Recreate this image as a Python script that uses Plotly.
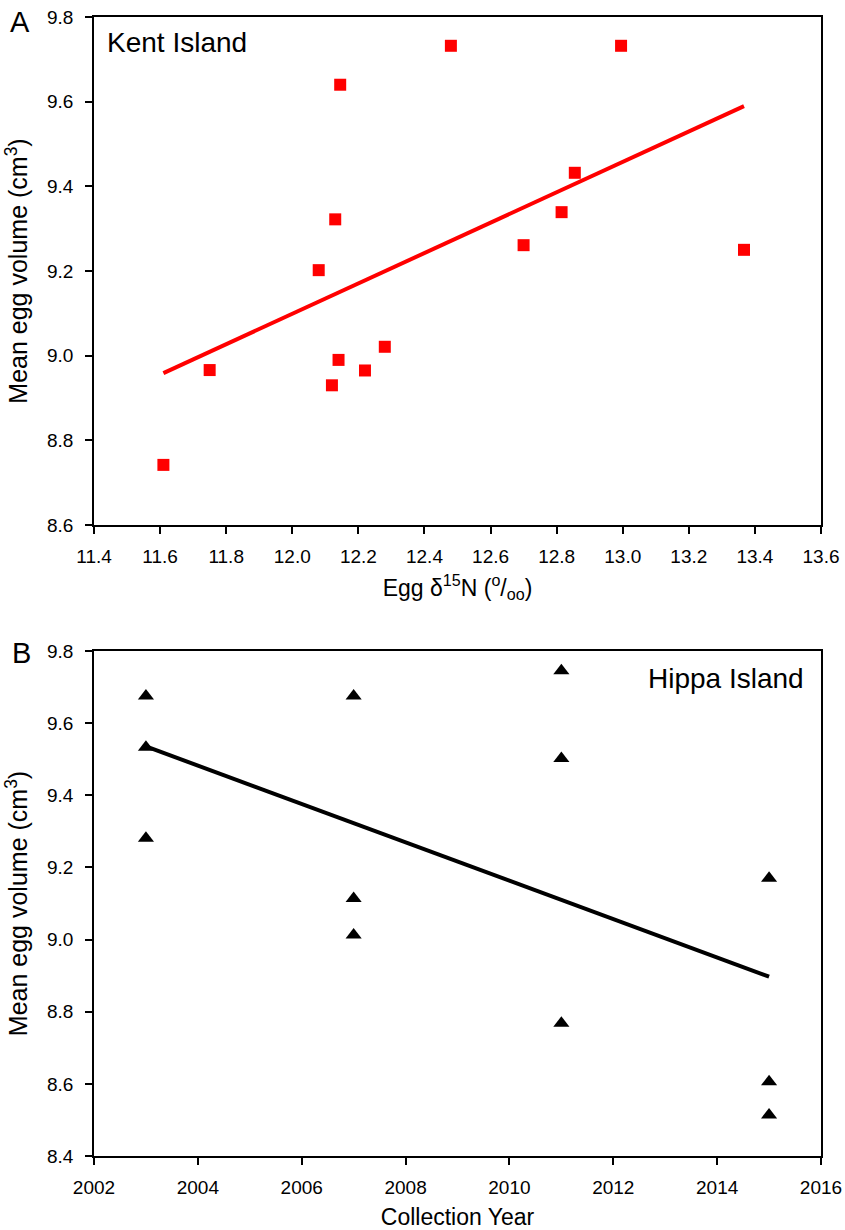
import numpy as np
import plotly.graph_objects as go

# Panel A: Kent Island
kent_d15n = [11.61, 11.75, 12.08, 12.12, 12.13, 12.14, 12.145, 12.22, 12.28, 12.48, 12.70, 12.815, 12.855, 12.995, 13.367]
kent_vol = [8.742, 8.966, 9.202, 8.930, 9.322, 8.990, 9.640, 8.965, 9.021, 9.732, 9.261, 9.339, 9.432, 9.732, 9.250]
kent_xticks = [11.4, 11.6, 11.8, 12.0, 12.2, 12.4, 12.6, 12.8, 13.0, 13.2, 13.4, 13.6]
kent_yticks = [8.6, 8.8, 9.0, 9.2, 9.4, 9.6, 9.8]

# Panel B: Hippa Island
hippa_year = [2003, 2003, 2003, 2007, 2007, 2007, 2011, 2011, 2011, 2015, 2015, 2015]
hippa_vol = [9.675, 9.533, 9.281, 9.675, 9.114, 9.013, 9.745, 9.502, 8.768, 9.170, 8.606, 8.514]
hippa_xticks = [2002, 2004, 2006, 2008, 2010, 2012, 2014, 2016]
hippa_yticks = [8.4, 8.6, 8.8, 9.0, 9.2, 9.4, 9.6, 9.8]

W, H = 845, 1230
FONT = "Liberation Sans, Arial, sans-serif"

def PX(x):
    return x / W

def PY(y):
    return 1 - y / H

def fit(x, y):
    x = np.asarray(x, float); y = np.asarray(y, float)
    b, a = np.polyfit(x, y, 1)
    xs = np.array([x.min(), x.max()])
    return xs, a + b * xs

fig = go.Figure()

fig.add_trace(go.Scatter(x=kent_d15n, y=kent_vol, mode="markers",
                         marker=dict(symbol="square", size=12, color="#ff0000"),
                         xaxis="x", yaxis="y", showlegend=False))
fx, fy = fit(kent_d15n, kent_vol)
fig.add_trace(go.Scatter(x=fx, y=fy, mode="lines", line=dict(color="#ff0000", width=4),
                         xaxis="x", yaxis="y", showlegend=False))

fig.add_trace(go.Scatter(x=hippa_year, y=hippa_vol, mode="markers",
                         marker=dict(symbol="triangle-up", size=14, color="black"),
                         xaxis="x2", yaxis="y2", showlegend=False))
fx2, fy2 = fit(hippa_year, hippa_vol)
fig.add_trace(go.Scatter(x=fx2, y=fy2, mode="lines", line=dict(color="black", width=4),
                         xaxis="x2", yaxis="y2", showlegend=False))

xdom = [PX(94), PX(821)]
ydomA = [PY(525), PY(17)]
ydomB = [PY(1156), PY(651)]

common = dict(showline=True, linecolor="black", linewidth=1.5, mirror=True,
              ticks="outside", ticklen=7, tickwidth=1.5, tickcolor="black",
              showgrid=False, zeroline=False, automargin=False,
              tickfont=dict(family=FONT, size=19, color="black"))

XT = 23
YT = 25

fig.update_layout(
    template="none",
    width=W, height=H,
    margin=dict(l=0, r=0, t=0, b=0, autoexpand=False),
    paper_bgcolor="white", plot_bgcolor="white",
    font=dict(family=FONT, color="black"),
    xaxis=dict(domain=xdom, anchor="y", range=[11.4, 13.6], tickmode="array", tickvals=kent_xticks,
               tickformat=".1f", ticklabelstandoff=6,
               title=dict(text="Egg δ<sup>15</sup>N (<sup>o</sup>/<sub>oo</sub>)",
                          font=dict(family=FONT, size=XT), standoff=14), **common),
    yaxis=dict(domain=ydomA, anchor="x", range=[8.6, 9.8], tickmode="array", tickvals=kent_yticks,
               tickformat=".1f", ticklabelstandoff=8,
               title=dict(text="Mean egg volume (cm<sup>3</sup>)",
                          font=dict(family=FONT, size=YT), standoff=12), **common),
    xaxis2=dict(domain=xdom, anchor="y2", range=[2002, 2016], tickmode="array", tickvals=hippa_xticks,
                ticklabelstandoff=6,
                title=dict(text="Collection Year", font=dict(family=FONT, size=XT), standoff=14), **common),
    yaxis2=dict(domain=ydomB, anchor="x2", range=[8.4, 9.8], tickmode="array", tickvals=hippa_yticks,
                tickformat=".1f", ticklabelstandoff=8,
                title=dict(text="Mean egg volume (cm<sup>3</sup>)",
                           font=dict(family=FONT, size=YT), standoff=12), **common),
    annotations=[
        dict(text="Kent Island", xref="paper", yref="paper", x=PX(105), y=PY(43),
             xanchor="left", yanchor="middle", showarrow=False, font=dict(family=FONT, size=28)),
        dict(text="Hippa Island", xref="paper", yref="paper", x=PX(806), y=PY(678),
             xanchor="right", yanchor="middle", showarrow=False, font=dict(family=FONT, size=28)),
        dict(text="A", xref="paper", yref="paper", x=PX(8), y=PY(22),
             xanchor="left", yanchor="middle", showarrow=False, font=dict(family=FONT, size=29)),
        dict(text="B", xref="paper", yref="paper", x=PX(10), y=PY(653),
             xanchor="left", yanchor="middle", showarrow=False, font=dict(family=FONT, size=29)),
    ],
)

fig.write_html("out.html", config={"displayModeBar": False},
               post_script="document.body.style.margin='0px';document.body.style.overflow='hidden';")
